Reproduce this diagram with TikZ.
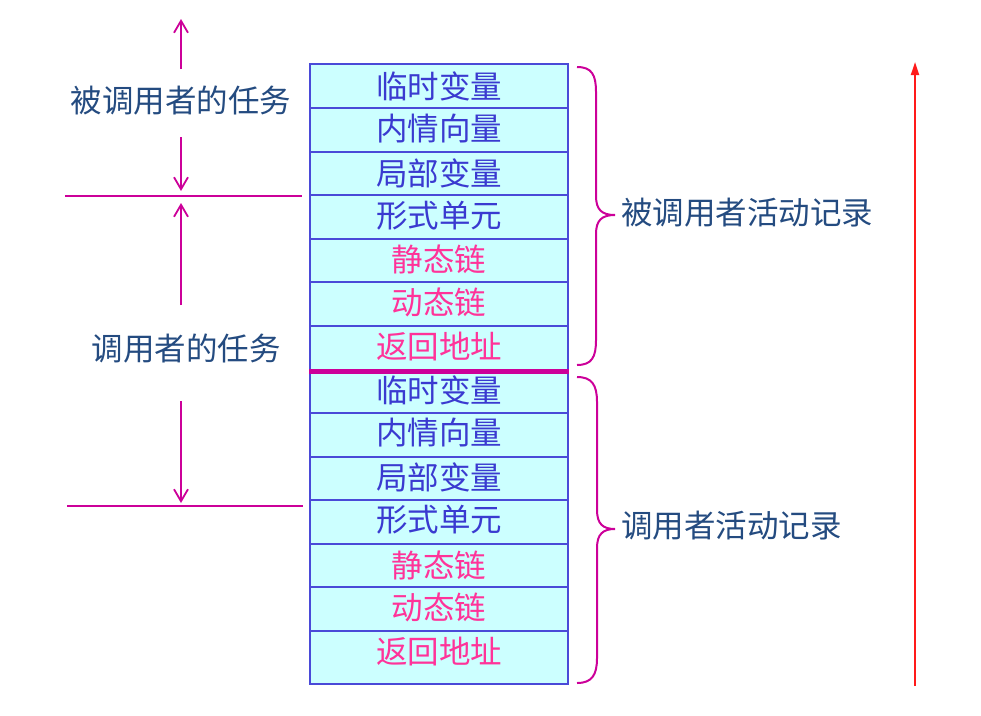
\documentclass[tikz,border=0pt]{standalone}
\usepackage{fontspec}
\newfontfamily\cjk{Noto Sans CJK SC}
\usetikzlibrary{arrows.meta}
\definecolor{cellfill}{HTML}{CCFFFF}
\definecolor{cellborder}{HTML}{4A4AD8}
\definecolor{txtblue}{HTML}{3A3AD0}
\definecolor{txtpink}{HTML}{FF3399}
\definecolor{lbl}{HTML}{244B80}
\definecolor{mag}{HTML}{CC0099}
\definecolor{redarr}{HTML}{FF1A1A}
\tikzset{
  cell/.style={draw=cellborder, line width=1.2pt, fill=cellfill, minimum width=258pt, inner sep=0pt},
  celltext/.style={inner sep=0pt, font=\cjk\fontsize{31.5}{33}\selectfont},
  bluetext/.style={celltext, text=txtblue},
  pinktext/.style={celltext, text=txtpink},
  lbltext/.style={font=\cjk\fontsize{31.5}{33}\selectfont, text=lbl, inner sep=0pt},
  magline/.style={draw=mag, line width=1.8pt},
  magarrow/.style={magline, -{Straight Barb[length=12pt,width=14pt,line width=1.8pt]}},
  bracestyle/.style={draw=mag, line width=2pt}
}
\begin{document}
\begin{tikzpicture}[x=1pt,y=-1pt]
\useasboundingbox (0,0) rectangle (981,715);
\def\rows{64/108/86/临时变量/bluetext/a1,108/152/129/内情向量/bluetext/a2,152/195/173/局部变量/bluetext/a3,195/239/216/形式单元/bluetext/a4,239/282/259/静态链/pinktext/a5,282/326/302/动态链/pinktext/a6,326/371/347/返回地址/pinktext/a7,371/413/390/临时变量/bluetext/b1,413/457/433/内情向量/bluetext/b2,457/500/477/局部变量/bluetext/b3,500/544/520/形式单元/bluetext/b4,544/587/565/静态链/pinktext/b5,587/631/607/动态链/pinktext/b6,631/684/652/返回地址/pinktext/b7}
\foreach \ya/\yb/\yt/\t/\s/\n in \rows {
  \pgfmathsetmacro\yc{(\ya+\yb)/2}
  \pgfmathsetmacro\hh{\yb-\ya}
  \node[cell, minimum height=\hh pt] (\n) at (439,\yc) {};
  \node[\s] (\n t) at (439,\yt) {\t};
}
% separator between records
\draw[draw=mag, line width=5pt] (a7.south west) -- (a7.south east);
% braces
\coordinate (br1a) at (577,67);
\coordinate (br1t) at (615,215);
\coordinate (br1b) at (577,365);
\draw[bracestyle] (br1a) .. controls (592,67) and (596,75) .. (596,92) -- (596,196)
  .. controls (596,210) and (602,215) .. (br1t)
  (br1t) .. controls (602,215) and (596,220) .. (596,234) -- (596,340)
  .. controls (596,357) and (592,365) .. (br1b);
\coordinate (br2a) at (577,377);
\coordinate (br2t) at (615,529);
\coordinate (br2b) at (577,683);
\draw[bracestyle] (br2a) .. controls (592,377) and (597,385) .. (597,402) -- (597,510)
  .. controls (597,524) and (603,529) .. (br2t)
  (br2t) .. controls (603,529) and (597,534) .. (597,548) -- (597,658)
  .. controls (597,675) and (592,683) .. (br2b);
\node[lbltext, anchor=west] (rec1) at (621,213) {被调用者活动记录};
\node[lbltext, anchor=west] (rec2) at (621,526) {调用者活动记录};
% left labels
\node[lbltext] (task1) at (181,101) {被调用者的任务};
\node[lbltext] (task2) at (186,349) {调用者的任务};
\coordinate (l1a) at (65,196);
\coordinate (l1b) at (302,196);
\coordinate (l2a) at (67,506);
\coordinate (l2b) at (303,506);
\draw[magline] (l1a) -- (l1b);
\draw[magline] (l2a) -- (l2b);
\coordinate (t1s) at (181,69);
\coordinate (t1e) at (181,19);
\coordinate (t2s) at (181,137);
\coordinate (t2e) at (181,191);
\coordinate (t3s) at (181,305);
\coordinate (t3e) at (181,203);
\coordinate (t4s) at (181,401);
\coordinate (t4e) at (181,503);
\draw[magarrow] (t1s) -- (t1e);
\draw[magarrow] (t2s) -- (t2e);
\draw[magarrow] (t3s) -- (t3e);
\draw[magarrow] (t4s) -- (t4e);
% red stack-growth arrow
\coordinate (ra) at (915,686);
\coordinate (rb) at (915,62);
\draw[draw=redarr, line width=1.8pt, -{Triangle[length=13pt,width=8pt]}] (ra) -- (rb);
\end{tikzpicture}
\end{document}
